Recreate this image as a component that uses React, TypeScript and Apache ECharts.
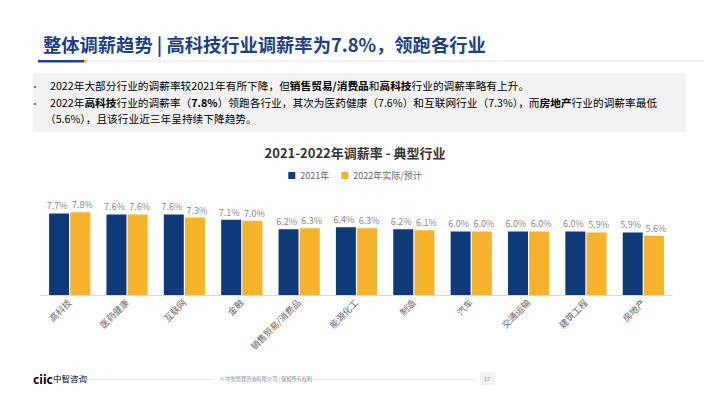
import React, { useEffect, useRef } from "react";
import * as echarts from "echarts";

const categories = ["高科技", "医药健康", "互联网", "金融", "销售贸易/消费品", "能源化工", "制造", "汽车", "交通运输", "建筑工程", "房地产"];
const rate2021 = [7.7, 7.6, 7.6, 7.1, 6.2, 6.4, 6.2, 6.0, 6.0, 6.0, 5.9];
const rate2022 = [7.8, 7.6, 7.3, 7.0, 6.3, 6.3, 6.1, 6.0, 6.0, 5.9, 5.6];
const seriesNames = ["2021年", "2022年实际/预计"];

const FONT = '"Noto Sans CJK SC", "Noto Sans", sans-serif';

export default function App() {
  const ref = useRef<HTMLDivElement>(null);
  useEffect(() => {
    if (!ref.current) return;
    const chart = echarts.init(ref.current, null, { renderer: "svg" });
    const textBase = { fontFamily: FONT, fontSize: 10, fill: "#555" };
    const rich = {
      n: { fontFamily: FONT, fontSize: 10.7, color: "#555" },
      b: { fontFamily: FONT, fontSize: 10.7, color: "#1f2f55", fontWeight: "bold" },
    };
    const fmt = (p: any) => p.value.toFixed(1) + "%";
    chart.setOption({
      animation: false,
      backgroundColor: "#ffffff",
      textStyle: { fontFamily: FONT },
      title: {
        text: "2021-2022年调薪率 - 典型行业",
        left: "center",
        top: 141,
        textStyle: { fontSize: 13, fontWeight: "bold", color: "#333", fontFamily: FONT },
      },
      legend: {
        top: 166,
        left: "center",
        itemWidth: 7,
        itemHeight: 7,
        itemGap: 12,
        icon: "rect",
        textStyle: { fontSize: 9, color: "#666", fontFamily: FONT },
        data: seriesNames,
      },
      grid: { left: 41, right: 38, top: 189, bottom: 104 },
      xAxis: {
        type: "category",
        data: categories,
        axisLine: { lineStyle: { color: "#d9d9d9" } },
        axisTick: { show: false },
        axisLabel: { rotate: 45, fontSize: 9, color: "#666", interval: 0, margin: 6, fontFamily: FONT },
      },
      yAxis: { type: "value", min: 0, max: 10, show: false, splitLine: { show: false } },
      series: [
        {
          name: seriesNames[0],
          type: "bar",
          data: rate2021,
          barWidth: 20,
          barGap: "6%",
          itemStyle: { color: "#0f3a7a" },
          label: { show: true, position: "top", distance: 3, fontSize: 9, color: "#888", offset: [-2, 0], formatter: fmt },
        },
        {
          name: seriesNames[1],
          type: "bar",
          data: rate2022,
          barWidth: 20,
          itemStyle: { color: "#f5b22a" },
          label: { show: true, position: "top", distance: 3, fontSize: 9, color: "#888", offset: [2, 0], formatter: fmt },
        },
      ],
      graphic: [
        {
          type: "text",
          left: 43,
          top: 35,
          style: { text: "整体调薪趋势 | 高科技行业调薪率为7.8%，领跑各行业", fontFamily: FONT, fontSize: 18.3, fontWeight: "bold", fill: "#1b3f8b" },
        },
        { type: "rect", shape: { x: 84, y: 60.5, width: 620, height: 1 }, style: { fill: "#e6e6e6" } },
        { type: "rect", shape: { x: 38, y: 60, width: 46, height: 2.5 }, style: { fill: "#1b3f8b" } },
        { type: "rect", shape: { x: 84, y: 60, width: 3, height: 2.5 }, style: { fill: "#f5b22a" } },
        { type: "rect", shape: { x: 33, y: 73, width: 653, height: 59 }, style: { fill: "#f2f2f2" } },
        { type: "text", left: 30, top: 81, style: { ...textBase, text: "•" } },
        {
          type: "text",
          left: 50,
          top: 80,
          style: {
            text: "{n|2022年大部分行业的调薪率较2021年有所下降，但}{b|销售贸易/消费品}{n|和}{b|高科技}{n|行业的调薪率略有上升。}",
            rich,
          },
        },
        { type: "text", left: 30, top: 98, style: { ...textBase, text: "•" } },
        {
          type: "text",
          left: 50,
          top: 97,
          style: {
            text: "{n|2022年}{b|高科技}{n|行业的调薪率（}{b|7.8%}{n|）领跑各行业，其次为医药健康（7.6%）和互联网行业（7.3%），而}{b|房地产}{n|行业的调薪率最低}",
            rich,
          },
        },
        {
          type: "text",
          left: 45,
          top: 113,
          style: { text: "{n|（5.6%），且该行业近三年呈持续下降趋势。}", rich },
        },
        {
          type: "text",
          left: 33,
          top: 372,
          style: { text: "{a|ciic}{c|中智咨询}", rich: {
            a: { fontFamily: FONT, fontSize: 12, fontWeight: "bold", color: "#1b3f8b" },
            c: { fontFamily: FONT, fontSize: 8.5, color: "#1b3f8b" },
          } },
        },
        { type: "rect", shape: { x: 82, y: 379, width: 130, height: 0.8 }, style: { fill: "#dddddd" } },
        {
          type: "text",
          left: 220,
          top: 376,
          style: { text: "© 中智管理咨询有限公司 | 保留所有权利", fontFamily: FONT, fontSize: 5.2, fill: "#888" },
        },
        { type: "rect", shape: { x: 310, y: 379, width: 165, height: 0.8 }, style: { fill: "#dddddd" } },
        { type: "rect", shape: { x: 480, y: 372, width: 15, height: 13 }, style: { fill: "#f2f2f2" } },
        { type: "text", left: 484, top: 376, style: { text: "17", fontFamily: FONT, fontSize: 5.5, fill: "#888" } },
      ],
    });
    return () => chart.dispose();
  }, []);
  return <div ref={ref} style={{ position: "fixed", left: 0, top: 0, width: 710, height: 399 }} />;
}
